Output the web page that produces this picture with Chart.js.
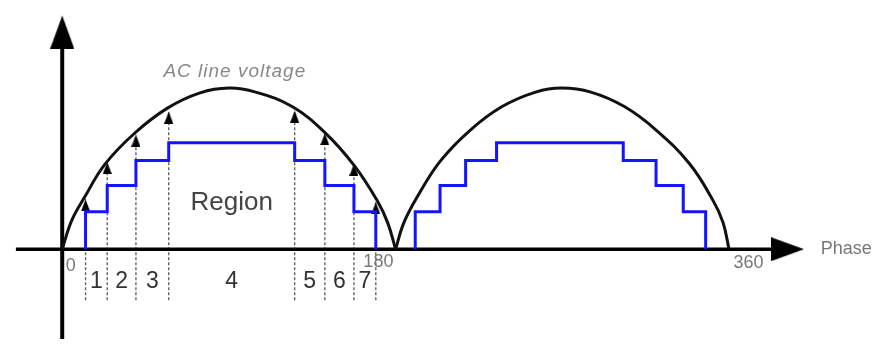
<!DOCTYPE html>
<html>
<head>
<meta charset="utf-8">
<title>AC line voltage – step regions</title>
<script src="https://cdn.jsdelivr.net/npm/chart.js@4.4.1/dist/chart.umd.min.js"></script>
<style>
  html, body { margin: 0; padding: 0; background: #fff; }
  #wrap { width: 878px; height: 345px; position: relative; }
</style>
</head>
<body>
<div id="wrap"><canvas id="phaseChart"></canvas></div>
<script>
// rectified line voltage, one half-wave per hump (phase in degrees, level relative to peak)
const curvePhase1 = [0, 5.2, 12.2, 22.9, 38.9, 56.6, 74.4, 90, 104.4, 124.1, 141.7, 157.6, 170.4, 175.7, 180];
const curveLevel1 = [0, 0.18, 0.325, 0.525, 0.718, 0.874, 0.970, 1.0, 0.975, 0.885, 0.725, 0.520, 0.295, 0.165, 0];
const curvePhase2 = [180, 184.3, 191.7, 204.0, 219.9, 237.5, 255.6, 269.5, 285.4, 303.5, 321.1, 338.7, 351.5, 356.8, 360];
const curveLevel2 = [0, 0.16, 0.325, 0.545, 0.735, 0.885, 0.975, 1.0, 0.975, 0.885, 0.735, 0.530, 0.300, 0.165, 0];

// staircase: phase where each step starts and the level it switches to
const stepEdges1 = [12.6, 24.3, 39.8, 57.5, 125.5, 141.8, 157.5, 169.3];
const stepEdges2 = [190.6, 204.0, 217.8, 234.5, 302.9, 320.6, 335.3, 347.4];
const stepLevels = [0.232, 0.395, 0.551, 0.660, 0.551, 0.395, 0.232, 0];

// where the dashed markers meet the voltage curve
const markerTips = [0.310, 0.541, 0.711, 0.854, 0.860, 0.720, 0.530, 0.292];

const regionLabels = ['1', '2', '3', '4', '5', '6', '7'];
const phaseTicks = [0, 180, 360];

const FONT = '"Liberation Sans", Arial, sans-serif';

// triangle with its tip in the middle of the canvas, so the point sits on the tip
function arrowHead(w, h) {
    const c = document.createElement('canvas');
    c.width = w;
    c.height = h * 2;
    const g = c.getContext('2d');
    g.fillStyle = '#000';
    g.beginPath();
    g.moveTo(w / 2, h);
    g.lineTo(w, h * 2);
    g.lineTo(0, h * 2);
    g.closePath();
    g.fill();
    return c;
}

const labelPlugin = {
    id: 'phaseLabels',
    afterDatasetsDraw(chart) {
        const { ctx, scales: { x, y } } = chart;
        ctx.save();
        ctx.textAlign = 'center';
        ctx.textBaseline = 'middle';

        ctx.fillStyle = '#888';
        ctx.font = 'italic 19px ' + FONT;
        ctx.letterSpacing = '1px';
        ctx.fillText('AC line voltage', x.getPixelForValue(93.2), y.getPixelForValue(1.102));
        ctx.letterSpacing = '0px';

        ctx.fillStyle = '#444';
        ctx.font = '26px ' + FONT;
        ctx.fillText('Region', x.getPixelForValue((stepEdges1[3] + stepEdges1[4]) / 2), y.getPixelForValue(0.287));

        // region numbers sit between neighbouring step edges
        ctx.fillStyle = '#333';
        ctx.font = '23px ' + FONT;
        regionLabels.forEach((lbl, i) => {
            const mid = (stepEdges1[i] + stepEdges1[i + 1]) / 2;
            ctx.fillText(lbl, x.getPixelForValue(mid), y.getPixelForValue(-0.2));
        });

        ctx.fillStyle = '#777';
        ctx.font = '18px ' + FONT;
        const tickPos = { 0: [4.6, -0.105], 180: [170.7, -0.078], 360: [370.5, -0.084] };
        phaseTicks.forEach(t => {
            const [px, py] = tickPos[t];
            ctx.fillText(String(t), x.getPixelForValue(px), y.getPixelForValue(py));
        });

        ctx.textAlign = 'left';
        ctx.font = '18px ' + FONT;
        ctx.fillText('Phase', x.getPixelForValue(409.5), y.getPixelForValue(0));
        ctx.restore();
    }
};

class PhaseChart {
    constructor(canvasId) {
        this.canvas = document.getElementById(canvasId);
        this.smallArrow = arrowHead(9, 12);
        this.bigArrow = arrowHead(24, 33);
        this.chart = new Chart(this.canvas.getContext('2d'), this.buildConfig());
    }

    toPoints(xs, ys) {
        return xs.map((v, i) => ({ x: v, y: ys[i] }));
    }

    stairs(edges) {
        return [{ x: edges[0], y: 0 }, ...this.toPoints(edges, stepLevels)];
    }

    buildDatasets() {
        const sets = [];
        const curve = (xs, ys) => ({
            data: this.toPoints(xs, ys),
            borderColor: '#111',
            borderWidth: 3,
            tension: 0.4,
            pointRadius: 0
        });
        const steps = edges => ({
            data: this.stairs(edges),
            borderColor: '#1414ff',
            borderWidth: 3,
            stepped: 'before',
            borderJoinStyle: 'miter',
            pointRadius: 0
        });
        sets.push(steps(stepEdges1), steps(stepEdges2));
        sets.push(curve(curvePhase1, curveLevel1), curve(curvePhase2, curveLevel2));

        // axes with arrow heads
        sets.push({
            data: [{ x: 0, y: -0.7 }, { x: 0, y: 1.25 }],
            borderColor: '#000', borderWidth: 4, pointRadius: 0
        });
        sets.push({
            data: [{ x: -25, y: 0 }, { x: 385, y: 0 }],
            borderColor: '#000', borderWidth: 3.5, pointRadius: 0
        });
        sets.push({
            data: [{ x: 0, y: 1.45 }, { x: 400.5, y: 0 }],
            showLine: false,
            pointStyle: this.bigArrow,
            pointRadius: 5,
            rotation: [0, 90]
        });

        // dashed markers up to the curve at every step edge
        stepEdges1.forEach((e, i) => {
            sets.push({
                data: [{ x: e, y: -0.317 }, { x: e, y: markerTips[i] }],
                borderColor: '#666',
                borderWidth: 1.4,
                borderDash: [3, 2],
                pointStyle: this.smallArrow,
                pointRadius: [0, 3]
            });
        });
        return sets;
    }

    buildConfig() {
        return {
            type: 'line',
            data: { datasets: this.buildDatasets() },
            options: {
                responsive: true,
                maintainAspectRatio: false,
                animation: false,
                events: [],
                layout: { padding: 0 },
                plugins: { legend: { display: false }, tooltip: { enabled: false } },
                scales: {
                    x: { type: 'linear', min: -30.35, max: 437.2, display: false },
                    y: { type: 'linear', min: -0.557, max: 1.509, display: false }
                }
            },
            plugins: [labelPlugin]
        };
    }
}

document.addEventListener('DOMContentLoaded', () => {
    window.phaseChart = new PhaseChart('phaseChart');
});
</script>
</body>
</html>
